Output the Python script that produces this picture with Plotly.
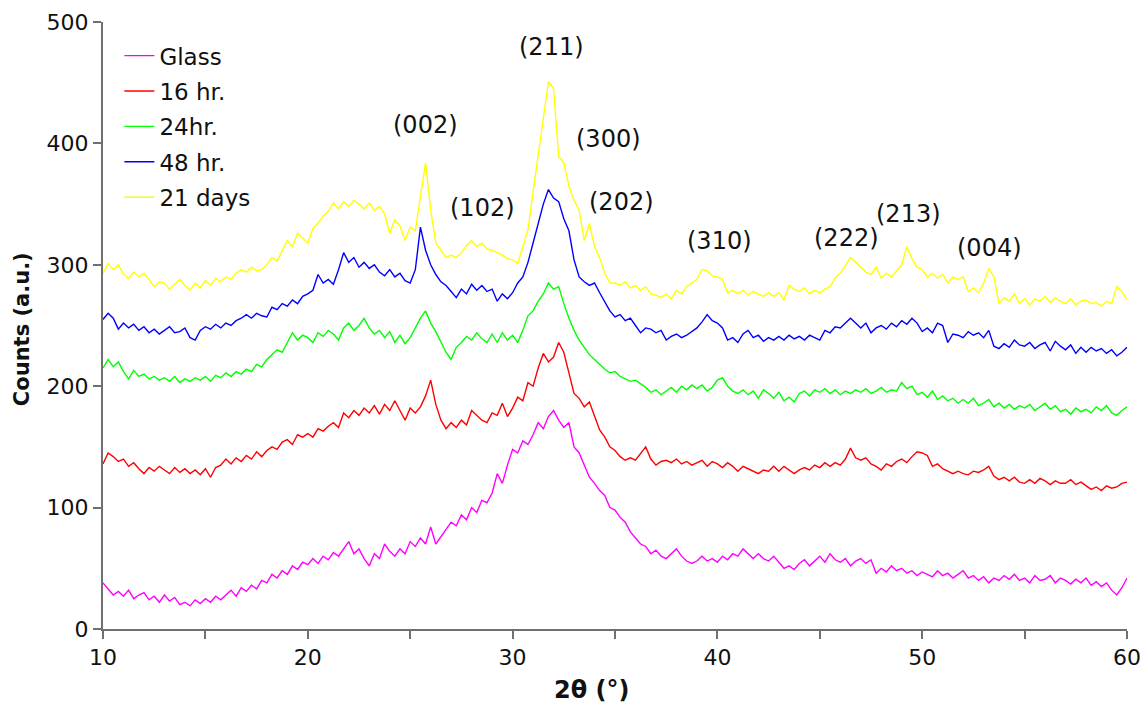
import plotly.graph_objects as go

# 2-theta grid: 10 to 60 deg in 0.25 deg steps (201 points)
two_theta = [10 + 0.25 * i for i in range(201)]

glass = [
    38, 33, 28, 31,  27, 32, 25, 28,  30, 24, 27, 22,  28, 23, 26, 20,
    22, 19, 24, 21,  25, 22, 27, 24,  28, 32, 27, 34,  31, 36, 33, 40,
    38, 45, 42, 48,  45, 52, 49, 55,  53, 58, 54, 60,  57, 63, 60, 66,
    72, 62, 66, 58,  52, 62, 58, 70,  64, 60, 66, 62,  72, 68, 75, 70,
    84, 70, 76, 82,  88, 85, 94, 90,  100, 96, 106, 104,  112, 128, 120, 135,
    148, 145, 155, 152,  160, 170, 165, 175,  180, 172, 166, 170,  150, 145, 135, 125,
    120, 114, 110, 100,  98, 92, 88, 80,  75, 70, 68, 62,  65, 60, 58, 62,
    66, 60, 56, 54,  56, 60, 56, 58,  55, 60, 57, 62,  60, 66, 62, 58,
    62, 58, 56, 60,  55, 50, 52, 49,  54, 57, 52, 56,  60, 55, 62, 57,
    55, 58, 52, 56,  58, 54, 57, 46,  50, 47, 52, 48,  50, 46, 48, 44,
    47, 45, 43, 48,  44, 46, 42, 45,  48, 42, 44, 40,  43, 38, 42, 40,
    44, 41, 45, 40,  42, 38, 44, 40,  41, 44, 38, 42,  40, 37, 41, 38,
    42, 36, 39, 35,  38, 32, 28, 34,  42,
]

hr16 = [
    136, 145, 142, 138,  140, 134, 137, 132,  128, 133, 130, 134,  131, 128, 133, 129,
    132, 128, 131, 127,  132, 125, 133, 135,  140, 136, 141, 138,  143, 140, 146, 142,
    147, 150, 148, 154,  156, 152, 160, 158,  161, 158, 165, 163,  167, 170, 166, 178,
    174, 180, 176, 182,  178, 184, 177, 185,  180, 188, 180, 172,  182, 178, 183, 192,
    205, 185, 172, 165,  170, 166, 172, 168,  180, 176, 172, 170,  178, 176, 186, 175,
    182, 191, 188, 203,  200, 215, 227, 220,  224, 236, 228, 211,  194, 190, 183, 187,
    176, 164, 158, 150,  147, 142, 139, 141,  139, 145, 150, 140,  135, 138, 139, 137,
    140, 136, 138, 135,  137, 139, 134, 138,  136, 133, 137, 134,  130, 134, 132, 130,
    128, 131, 130, 134,  130, 134, 131, 128,  131, 133, 131, 135,  133, 137, 134, 137,
    135, 140, 149, 141,  139, 141, 136, 134,  131, 136, 134, 138,  140, 137, 142, 146,
    145, 143, 134, 136,  132, 130, 128, 130,  128, 127, 130, 129,  131, 134, 126, 123,
    125, 122, 125, 121,  120, 123, 120, 124,  122, 119, 122, 120,  120, 123, 119, 121,
    118, 115, 117, 114,  118, 116, 117, 120,  121,
]

hr24 = [
    215, 222, 216, 220,  212, 206, 213, 208,  210, 206, 208, 205,  207, 204, 208, 203,
    206, 204, 207, 205,  208, 204, 209, 207,  211, 208, 212, 210,  214, 212, 218, 216,
    222, 226, 230, 228,  236, 244, 238, 242,  240, 236, 244, 241,  246, 243, 238, 248,
    252, 246, 250, 256,  248, 243, 246, 240,  245, 236, 242, 235,  240, 248, 256, 262,
    252, 245, 236, 228,  222, 232, 236, 241,  238, 244, 239, 236,  243, 236, 244, 238,
    242, 236, 246, 258,  262, 270, 276, 285,  280, 282, 268, 256,  246, 238, 232, 226,
    222, 218, 214, 211,  212, 208, 206, 204,  205, 202, 199, 195,  197, 193, 196, 199,
    195, 200, 197, 201,  198, 201, 196, 199,  205, 207, 200, 196,  194, 197, 193, 196,
    190, 197, 194, 190,  195, 188, 191, 187,  194, 196, 192, 197,  195, 198, 194, 197,
    193, 196, 194, 197,  195, 198, 194, 196,  199, 195, 197, 196,  203, 198, 200, 193,
    195, 191, 196, 189,  192, 188, 190, 186,  189, 186, 190, 184,  186, 189, 183, 186,
    182, 185, 181, 184,  182, 185, 180, 183,  186, 181, 184, 179,  181, 177, 182, 179,
    181, 178, 183, 180,  184, 178, 176, 180,  183,
]

hr48 = [
    255, 260, 256, 247,  252, 248, 251, 246,  249, 244, 247, 243,  246, 249, 244, 245,
    248, 240, 238, 246,  249, 247, 251, 248,  252, 250, 254, 256,  259, 256, 260, 258,
    257, 265, 263, 268,  266, 271, 268, 274,  276, 279, 292, 285,  288, 284, 296, 310,
    302, 306, 298, 302,  297, 300, 294, 291,  296, 290, 293, 287,  285, 296, 331, 312,
    300, 292, 286, 283,  278, 273, 280, 276,  284, 279, 283, 278,  280, 270, 276, 272,
    277, 285, 290, 302,  318, 334, 350, 362,  355, 352, 338, 328,  304, 290, 286, 283,
    285, 277, 270, 262,  257, 259, 254, 256,  250, 244, 248, 247,  244, 246, 238, 241,
    243, 240, 242, 245,  248, 253, 259, 254,  252, 248, 238, 240,  236, 243, 246, 240,
    242, 237, 240, 238,  241, 238, 242, 239,  241, 238, 242, 240,  238, 246, 244, 249,
    248, 252, 256, 252,  248, 252, 244, 248,  250, 247, 252, 249,  254, 251, 256, 252,
    245, 248, 244, 252,  250, 236, 243, 242,  240, 245, 242, 244,  240, 246, 233, 231,
    235, 232, 238, 234,  233, 236, 231, 234,  236, 229, 237, 233,  230, 234, 227, 232,
    228, 232, 229, 231,  227, 230, 225, 228,  232,
]

days21 = [
    293, 301, 296, 300,  292, 289, 294, 290,  293, 288, 282, 286,  285, 280, 284, 288,
    283, 279, 285, 281,  287, 283, 289, 286,  290, 288, 293, 296,  294, 298, 295, 296,
    300, 306, 303, 312,  320, 315, 326, 322,  318, 330, 334, 340,  344, 351, 346, 352,
    348, 353, 350, 346,  351, 345, 348, 342,  326, 337, 332, 320,  331, 328, 355, 384,
    345, 318, 312, 306,  308, 306, 310, 316,  320, 315, 318, 313,  312, 310, 308, 305,
    304, 301, 315, 329,  360, 389, 420, 451,  445, 389, 384, 365,  353, 345, 320, 334,
    315, 306, 293, 285,  285, 283, 286, 281,  283, 279, 282, 276,  275, 273, 276, 272,
    279, 276, 282, 285,  288, 296, 295, 291,  290, 288, 277, 279,  276, 279, 275, 278,
    276, 274, 277, 274,  277, 271, 283, 280,  278, 281, 276, 279,  277, 280, 282, 289,
    293, 300, 306, 302,  298, 294, 292, 298,  289, 293, 290, 295,  300, 315, 305, 298,
    296, 290, 293, 289,  292, 285, 290, 288,  290, 278, 281, 277,  285, 297, 290, 268,
    273, 270, 276, 268,  272, 267, 272, 270,  274, 269, 273, 270,  268, 272, 267, 270,
    271, 268, 269, 266,  270, 268, 282, 278,  271,
]

series_names = ["Glass", "16 hr.", "24hr.", "48 hr.", "21 days"]
series_values = [glass, hr16, hr24, hr48, days21]
series_colors = ["#ff00ff", "#ff0000", "#00ff00", "#0000ff", "#ffff00"]

peak_labels = ["(002)", "(102)", "(211)", "(300)", "(202)", "(310)", "(222)", "(213)", "(004)"]
peak_label_x = [25.75, 28.55, 31.9, 34.7, 35.3, 40.1, 46.3, 49.35, 53.3]
peak_label_y = [415, 347, 479, 404, 352, 320, 322, 342, 314]

x_title = "<b>2θ (°)</b>"
y_title = "<b>Counts (a.u.)</b>"

FONT = "DejaVu Sans"

fig = go.Figure()
for name, vals, col in zip(series_names, series_values, series_colors):
    fig.add_trace(go.Scatter(
        x=two_theta, y=vals, mode="lines", name=name,
        line=dict(color=col, width=1.4),
        legendgroup=name,
    ))

for lab, lx, ly in zip(peak_labels, peak_label_x, peak_label_y):
    fig.add_annotation(x=lx, y=ly, text=lab, showarrow=False,
                       font=dict(family=FONT, size=24, color="#111111"))

# axis titles placed explicitly (automargin off so the plot area stays fixed)
fig.add_annotation(xref="paper", yref="paper", x=0.4766, y=-0.1005, text=x_title,
                   showarrow=False, xanchor="center", yanchor="middle",
                   font=dict(family=FONT, size=24, color="#111111"))
fig.add_annotation(xref="paper", yref="paper", x=-0.0791, y=0.494, text=y_title,
                   showarrow=False, xanchor="center", yanchor="middle", textangle=-90,
                   font=dict(family=FONT, size=21, color="#111111"))

axis_common = dict(
    showgrid=False, zeroline=False, showline=True, automargin=False,
    linecolor="#707070", linewidth=2,
    ticks="outside", ticklen=8, tickwidth=1.5, tickcolor="#707070",
    tickfont=dict(family=FONT, size=22, color="#111111"),
)

fig.update_xaxes(
    range=[10, 60], tick0=10, dtick=10,
    minor=dict(dtick=5, ticks="outside", ticklen=8, tickwidth=1.5, tickcolor="#707070"),
    **axis_common,
)
fig.update_yaxes(
    range=[0, 500], tick0=0, dtick=100,
    **axis_common,
)

# page body has an 8px margin, so the figure is drawn 8px right/down of the window origin
fig.update_layout(
    width=1140, height=698,
    margin=dict(l=95, r=21, t=14, b=77, autoexpand=False),
    plot_bgcolor="white", paper_bgcolor="white",
    showlegend=True,
    legend=dict(
        x=0.016, y=0.980, xanchor="left", yanchor="top",
        font=dict(family=FONT, size=23, color="#111111"),
        bgcolor="rgba(0,0,0,0)", tracegroupgap=2.5,
        itemwidth=30,
    ),
)

fig.write_html("out.html")
